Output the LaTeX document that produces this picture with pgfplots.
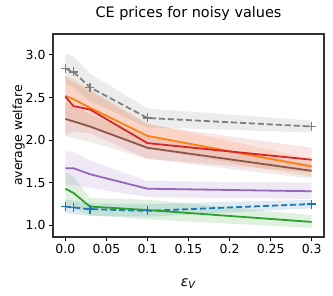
\documentclass[border=0pt]{standalone}
\usepackage{pgfplots}
\pgfplotsset{compat=1.18}
\usepackage{fontspec}
\setmainfont{DejaVu Sans}
\definecolor{tblue}{HTML}{1F77B4}
\definecolor{torange}{HTML}{FF7F0E}
\definecolor{tgreen}{HTML}{2CA02C}
\definecolor{tred}{HTML}{D62728}
\definecolor{tpurple}{HTML}{9467BD}
\definecolor{tbrown}{HTML}{8C564B}
\definecolor{tgray}{HTML}{7F7F7F}
\begin{document}
\begin{tikzpicture}
\begin{axis}[
  scale only axis, width=271bp, height=203bp,
  xmin=-0.015, xmax=0.315, ymin=0.863, ymax=3.246,
  xtick={0,0.05,0.1,0.15,0.2,0.25,0.3},
  xticklabels={0.0,0.05,0.1,0.15,0.2,0.25,0.3},
  ytick={1.0,1.5,2.0,2.5,3.0},
  yticklabels={1.0,1.5,2.0,2.5,3.0},
  tick pos=left, tick align=outside, major tick length=4bp,
  tick style={black, line width=1bp},
  axis line style={black!80, line width=1.1bp},
  /pgf/number format/assume math mode=true,
  tick label style={font=\fontsize{12.5}{14}\selectfont},
  title={CE prices for noisy values},
  title style={font=\fontsize{14.5}{16}\selectfont, yshift=4bp},
  xlabel={\textit{ε}\textsubscript{\textit{V}}},
  xlabel style={font=\fontsize{14}{16}\selectfont, yshift=-18bp},
  ylabel={average welfare},
  ylabel style={font=\fontsize{12.5}{14}\selectfont, yshift=-6bp},
]
% bands
\addplot[draw=none, fill=tblue, fill opacity=0.15] coordinates {(0,1.30)(0.01,1.29)(0.03,1.26)(0.1,1.25)(0.3,1.30)(0.3,1.20)(0.1,1.10)(0.03,1.11)(0.01,1.13)(0,1.14)} -- cycle;
\addplot[draw=none, fill=torange, fill opacity=0.15] coordinates {(0,2.76)(0.01,2.72)(0.03,2.60)(0.1,2.20)(0.3,1.78)(0.3,1.57)(0.1,1.90)(0.03,2.16)(0.01,2.24)(0,2.28)} -- cycle;
\addplot[draw=none, fill=tgreen, fill opacity=0.15] coordinates {(0,1.63)(0.01,1.57)(0.03,1.32)(0.1,1.30)(0.3,1.12)(0.3,0.97)(0.1,1.07)(0.03,1.12)(0.01,1.20)(0,1.25)} -- cycle;
\addplot[draw=none, fill=tred, fill opacity=0.12] coordinates {(0,2.74)(0.01,2.68)(0.03,2.58)(0.1,2.18)(0.3,1.91)(0.3,1.62)(0.1,1.78)(0.03,2.08)(0.01,2.10)(0,2.06)} -- cycle;
\addplot[draw=none, fill=tpurple, fill opacity=0.15] coordinates {(0,1.87)(0.01,1.86)(0.03,1.76)(0.1,1.52)(0.3,1.50)(0.3,1.31)(0.1,1.33)(0.03,1.44)(0.01,1.47)(0,1.47)} -- cycle;
\addplot[draw=none, fill=tbrown, fill opacity=0.12] coordinates {(0,2.45)(0.01,2.40)(0.03,2.30)(0.1,2.04)(0.3,1.72)(0.3,1.55)(0.1,1.78)(0.03,1.98)(0.01,2.02)(0,2.05)} -- cycle;
\addplot[draw=none, fill=tgray, fill opacity=0.15] coordinates {(0,3.02)(0.01,2.98)(0.03,2.78)(0.1,2.37)(0.3,2.23)(0.3,2.09)(0.1,2.15)(0.03,2.46)(0.01,2.62)(0,2.66)} -- cycle;
% lines
\addplot[tblue, line width=1.8bp, dash pattern=on 6bp off 3bp, mark=+, mark size=4.5bp, mark options={solid, line width=1.3bp}] coordinates {(0,1.22)(0.01,1.21)(0.03,1.19)(0.1,1.17)(0.3,1.25)};
\addplot[torange, line width=1.8bp] coordinates {(0,2.52)(0.01,2.48)(0.03,2.38)(0.1,2.05)(0.3,1.69)};
\addplot[tgreen, line width=1.8bp] coordinates {(0,1.43)(0.01,1.38)(0.03,1.22)(0.1,1.18)(0.3,1.04)};
\addplot[tred, line width=1.8bp] coordinates {(0,2.51)(0.01,2.40)(0.03,2.36)(0.1,1.965)(0.3,1.77)};
\addplot[tpurple, line width=1.8bp] coordinates {(0,1.67)(0.01,1.67)(0.03,1.60)(0.1,1.43)(0.3,1.40)};
\addplot[tbrown, line width=1.8bp] coordinates {(0,2.25)(0.01,2.22)(0.03,2.16)(0.1,1.91)(0.3,1.64)};
\addplot[tgray, line width=1.8bp, dash pattern=on 6bp off 3bp, mark=+, mark size=4.5bp, mark options={solid, line width=1.3bp}] coordinates {(0,2.84)(0.01,2.80)(0.03,2.62)(0.1,2.26)(0.3,2.16)};
\end{axis}
\path (current axis.south west) ++(-53bp,-59bp);
\path (current axis.north east) ++(9bp,34bp);
\end{tikzpicture}
\end{document}
